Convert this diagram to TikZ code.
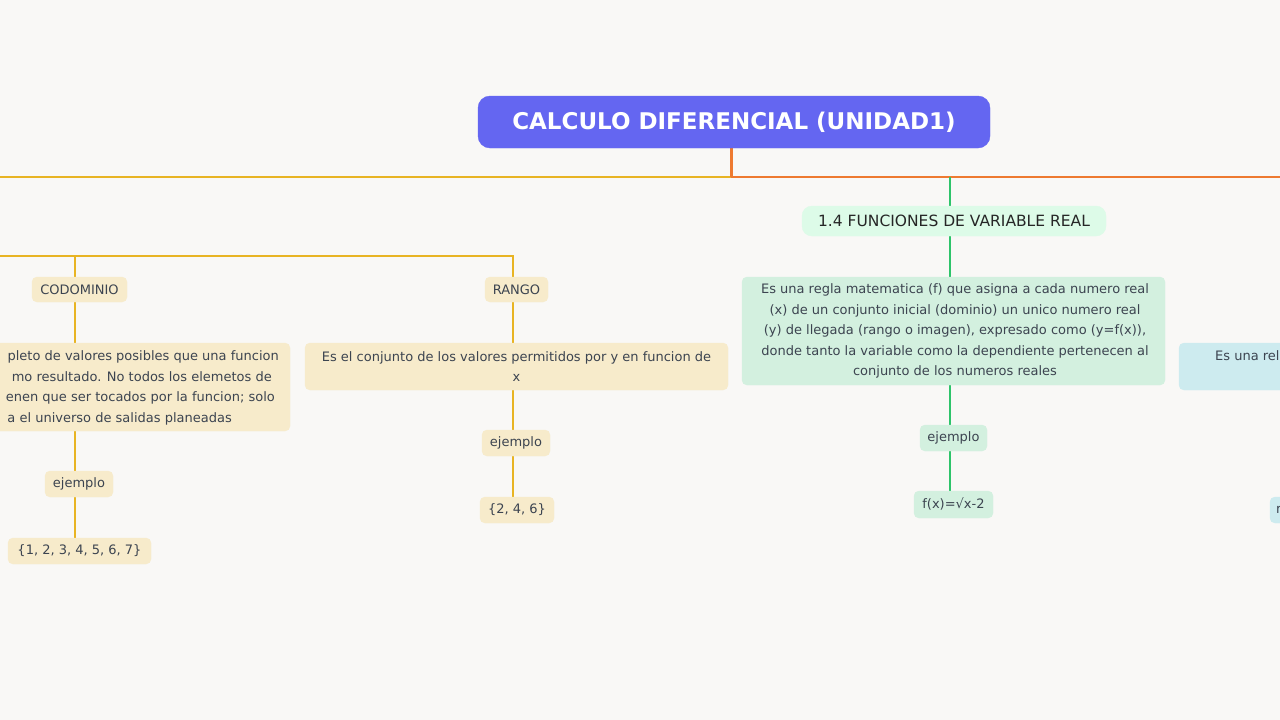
\documentclass[tikz,border=0pt]{standalone}
\usepackage{fontspec}
\setmainfont{DejaVu Sans}
\begin{document}
\begin{tikzpicture}[x=1pt,y=-1pt,
  box/.style={rounded corners=5pt,inner sep=0pt},
  txt/.style={text=tx,font=\fontsize{13}{20.5}\selectfont,inner sep=0pt},
  yl/.style={draw=ylw,line width=1.3pt},
  gl/.style={draw=grn,line width=1.3pt}]
\definecolor{bg}{HTML}{F9F8F6}
\definecolor{tx}{HTML}{3C4450}
\definecolor{ylw}{HTML}{E8B423}
\definecolor{org}{HTML}{EE7A30}
\definecolor{grn}{HTML}{2EC46A}
\definecolor{yf}{HTML}{F7EBCB}
\definecolor{gf}{HTML}{D3F0DF}
\definecolor{gf2}{HTML}{DDFBE8}
\definecolor{cf}{HTML}{CDEBEF}
\definecolor{tf}{HTML}{6466F1}
\useasboundingbox (0,0) rectangle (1280,720);
\clip (0,0) rectangle (1280,720);
\fill[bg] (0,0) rectangle (1280,720);
% coordinates
\coordinate (hl) at (0,177); \coordinate (hm) at (731,177); \coordinate (hr) at (1280,177);
\coordinate (hg) at (950,177);
\coordinate (yl0) at (0,256); \coordinate (ya) at (75,256); \coordinate (yb) at (513,256);
% lines
\draw[ylw,line width=2.6pt] (hl) -- (hm);
\draw[org,line width=2.6pt] (hm) -- (hr);
\draw[org,line width=3pt] (731,148) -- (hm);
\draw[grn,line width=2.6pt] (hg) -- (950,206);
\draw[gl] (950,236) -- (950,277) (950,385) -- (950,425) (950,451) -- (950,491);
\draw[yl] (yl0) -- (yb) -- (513,343) (513,390) -- (513,497);
\draw[yl] (ya) -- (75,538);
% title
\filldraw[tf,rounded corners=12pt] (478,96) rectangle (990,148);
\node[text=white,font=\bfseries\fontsize{23}{26}\selectfont] (title) at (734,122) {CALCULO DIFERENCIAL (UNIDAD1)};
% green branch
\filldraw[gf2,rounded corners=10pt] (802,206) rectangle (1106,236);
\node[text=black!85,font=\fontsize{15.5}{18}\selectfont] (f14) at (954,221) {1.4 FUNCIONES DE VARIABLE REAL};
\filldraw[gf,box] (742,277) rectangle (1165,385);
\node[txt,align=center] (gdesc) at (955,331) {Es una regla matematica (f) que asigna a cada numero real\\(x) de un conjunto inicial (dominio) un unico numero real\\(y) de llegada (rango o imagen), expresado como (y=f(x)),\\donde tanto la variable como la dependiente pertenecen al\\conjunto de los numeros reales};
\filldraw[gf,box] (920,425) rectangle (987,451);
\node[txt] (gej) at (953.5,438) {ejemplo};
\filldraw[gf,box] (914,491) rectangle (993,518);
\node[txt] (gex) at (953.5,504.5) {f(x)=\char"221A x-2};
% yellow branch: codominio
\filldraw[yf,box] (32,277) rectangle (127,302);
\node[txt] (cod) at (79.5,289.5) {CODOMINIO};
\filldraw[yf,box] (-20,343) rectangle (290,431);
\node[txt,anchor=base east] (c1) at (279,360) {pleto de valores posibles que una funcion};
\node[txt,anchor=base east] (c2) at (272,381) {mo resultado. No todos los elemetos de};
\node[txt,anchor=base east] (c3) at (275,401.5) {enen que ser tocados por la funcion; solo};
\node[txt,anchor=base east] (c4) at (232,422) {a el universo de salidas planeadas};
\filldraw[yf,box] (45,471) rectangle (113,497);
\node[txt] (cej) at (79,484) {ejemplo};
\filldraw[yf,box] (8,538) rectangle (151,564);
\node[txt] (cex) at (79.5,551) {\{1, 2, 3, 4, 5, 6, 7\}};
% rango
\filldraw[yf,box] (485,277) rectangle (548,302);
\node[txt] (ran) at (516.5,289.5) {RANGO};
\filldraw[yf,box] (305,343) rectangle (728,390);
\node[txt,align=center] (rdesc) at (516.5,366.5) {Es el conjunto de los valores permitidos por y en funcion de\\x};
\filldraw[yf,box] (482,430) rectangle (550,456);
\node[txt] (rej) at (516,443) {ejemplo};
\filldraw[yf,box] (480,497) rectangle (554,523);
\node[txt] (rex) at (517,510) {\{2, 4, 6\}};
% cyan right
\filldraw[cf,box] (1179,343) rectangle (1300,390);
\node[txt,anchor=base west] (cy) at (1215,360) {Es una rel};
\filldraw[cf,box] (1270,497) rectangle (1300,523);
\node[txt,anchor=west] (cy2) at (1276,510) {r};
\end{tikzpicture}
\end{document}
